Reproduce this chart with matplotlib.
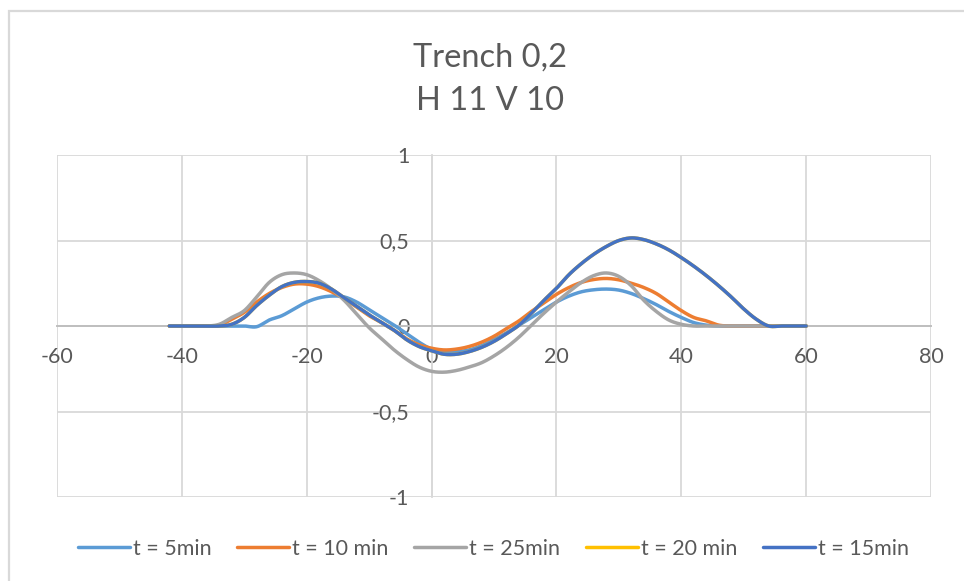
import numpy as np
import matplotlib
matplotlib.use("Agg")
import matplotlib.pyplot as plt
from matplotlib.patches import Rectangle
from matplotlib.ticker import FuncFormatter

plt.rcParams['font.family'] = ['Lato', 'DejaVu Sans']

# Position along the profile
x = [-42, -40, -38, -36, -34, -32, -30, -28, -26, -24, -22, -20, -18, -16, -14, -12,
     -10, -8, -6, -4, -2, 0, 2, 4, 6, 8, 10, 12, 14, 16, 18, 20, 22, 24, 26, 28,
     30, 32, 34, 36, 38, 40, 42, 44, 46, 48, 50, 52, 54, 56, 58, 60]

t5 = [0, 0, 0, 0, 0, 0, 0, -0.004, 0.035, 0.06, 0.1, 0.14, 0.165, 0.175, 0.17, 0.14,
      0.095, 0.05, 0.005, -0.045, -0.095, -0.135, -0.15, -0.15, -0.14, -0.115, -0.08, -0.04, 0.005, 0.05, 0.095, 0.14,
      0.175, 0.2, 0.212, 0.216, 0.21, 0.19, 0.16, 0.125, 0.085, 0.05, 0.02, 0.005, 0, 0, 0, 0,
      0, 0, 0, 0]

t10 = [0, 0, 0, 0, 0.005, 0.04, 0.08, 0.14, 0.19, 0.225, 0.245, 0.245, 0.23, 0.2, 0.16, 0.11,
       0.06, 0.02, -0.025, -0.075, -0.11, -0.13, -0.14, -0.135, -0.12, -0.095, -0.06, -0.015, 0.03, 0.085, 0.135, 0.185,
       0.225, 0.255, 0.272, 0.278, 0.27, 0.25, 0.225, 0.19, 0.14, 0.09, 0.05, 0.03, 0.005, 0, 0, 0,
       0, 0, 0, 0]

t25 = [0, 0, 0, 0, 0.01, 0.05, 0.09, 0.17, 0.255, 0.3, 0.31, 0.3, 0.265, 0.215, 0.15, 0.07,
       -0.01, -0.075, -0.14, -0.195, -0.24, -0.265, -0.27, -0.26, -0.24, -0.215, -0.175, -0.125, -0.065, 0.005, 0.075, 0.14,
       0.2, 0.255, 0.295, 0.31, 0.29, 0.235, 0.15, 0.085, 0.035, 0.01, 0, 0, 0, 0, 0, 0,
       0, 0, 0, 0]

t20 = [0, 0, 0, 0, 0, 0.01, 0.05, 0.12, 0.18, 0.23, 0.255, 0.26, 0.25, 0.215, 0.165, 0.115,
       0.065, 0.02, -0.025, -0.08, -0.12, -0.145, -0.165, -0.165, -0.15, -0.125, -0.09, -0.045, 0.005, 0.075, 0.15, 0.22,
       0.3, 0.365, 0.42, 0.465, 0.5, 0.515, 0.505, 0.48, 0.445, 0.4, 0.35, 0.295, 0.235, 0.17, 0.1, 0.04,
       0, 0, 0, 0]

t15 = [0, 0, 0, 0, 0, 0.01, 0.05, 0.12, 0.18, 0.23, 0.255, 0.26, 0.25, 0.215, 0.165, 0.115,
       0.065, 0.02, -0.025, -0.08, -0.12, -0.145, -0.165, -0.165, -0.15, -0.125, -0.09, -0.045, 0.005, 0.075, 0.15, 0.22,
       0.3, 0.365, 0.42, 0.465, 0.5, 0.515, 0.505, 0.48, 0.445, 0.4, 0.35, 0.295, 0.235, 0.17, 0.1, 0.04,
       0, 0, 0, 0]

labels = ["t = 5min", "t = 10 min", "t = 25min", "t = 20 min", "t = 15min"]
colors = ["#5B9BD5", "#ED7D31", "#A5A5A5", "#FFC000", "#4472C4"]
title_lines = ["Trench 0,2", "H 11 V 10"]
xticks = [-60, -40, -20, 0, 20, 40, 60, 80]
yticks = [-1, -0.5, 0, 0.5, 1]


def smooth_curve(xs, ys, steps=16):
    """Smoothed polyline through the points (cubic Bezier, Catmull-Rom tangents)."""
    p = np.column_stack([np.asarray(xs, float), np.asarray(ys, float)])
    n = len(p)
    out = [p[0]]
    t = np.linspace(0, 1, steps + 1)[1:, None]
    for i in range(n - 1):
        p0 = p[i - 1] if i > 0 else p[i]
        p1, p2 = p[i], p[i + 1]
        p3 = p[i + 2] if i + 2 < n else p[i + 1]
        c1 = p1 + (p2 - p0) / 6.0
        c2 = p2 - (p3 - p1) / 6.0
        seg = ((1 - t) ** 3) * p1 + 3 * ((1 - t) ** 2) * t * c1 + 3 * (1 - t) * t ** 2 * c2 + t ** 3 * p2
        out.extend(seg)
    out = np.array(out)
    return out[:, 0], out[:, 1]


fig = plt.figure(figsize=(9.64, 5.81), dpi=100)
fig.patch.set_facecolor("white")

# chart frame
fig.patches.append(Rectangle((9 / 964, -0.1), 1.2, 1.1 - 11 / 581, transform=fig.transFigure,
                             fill=False, edgecolor="#D9D9D9", linewidth=1.6, zorder=0))

ax = fig.add_axes([57 / 964, 84 / 581, 874 / 964, 342 / 581])
ax.set_xlim(-60, 80)
ax.set_ylim(-1, 1)

ax.set_xticks(xticks)
ax.set_yticks(yticks)
ax.grid(True, color="#D9D9D9", linewidth=1.3, zorder=0)
ax.set_axisbelow(True)

for sp in ("top", "right"):
    ax.spines[sp].set_visible(False)
ax.spines["bottom"].set_position(("data", 0))
ax.spines["left"].set_position(("data", 0))
ax.spines["bottom"].set_color("#BFBFBF")
ax.spines["left"].set_color("#D9D9D9")
ax.spines["bottom"].set_linewidth(1.4)
ax.spines["left"].set_linewidth(1.3)

fmt = FuncFormatter(lambda v, _: f"{v:g}".replace(".", ","))
ax.xaxis.set_major_formatter(fmt)
ax.yaxis.set_major_formatter(fmt)
ax.tick_params(axis="x", length=0, pad=15, labelsize=15.5, labelcolor="#595959")
ax.tick_params(axis="y", length=0, pad=16, labelsize=15.5, labelcolor="#595959")

series = [t5, t10, t25, t20, t15]
for ys, lab, col in zip(series, labels, colors):
    sx, sy = smooth_curve(x, ys)
    ax.plot(sx, sy, color=col, linewidth=2.5, label=lab, solid_capstyle="round", zorder=3)

fig.text(0.508, 1 - 58 / 581, title_lines[0], ha="center", va="center", fontsize=23.5, color="#595959")
fig.text(0.508, 1 - 101 / 581, title_lines[1], ha="center", va="center", fontsize=23.5, color="#595959")

handles, labs = ax.get_legend_handles_labels()
fig.legend(handles, labs, loc="center", bbox_to_anchor=(0.512, 1 - 549 / 581), ncol=5,
           frameon=False, fontsize=15.5, labelcolor="#595959", handlelength=2.4,
           handletextpad=0.15, columnspacing=1.2)

fig.savefig("out.png", dpi=100, facecolor="white")
